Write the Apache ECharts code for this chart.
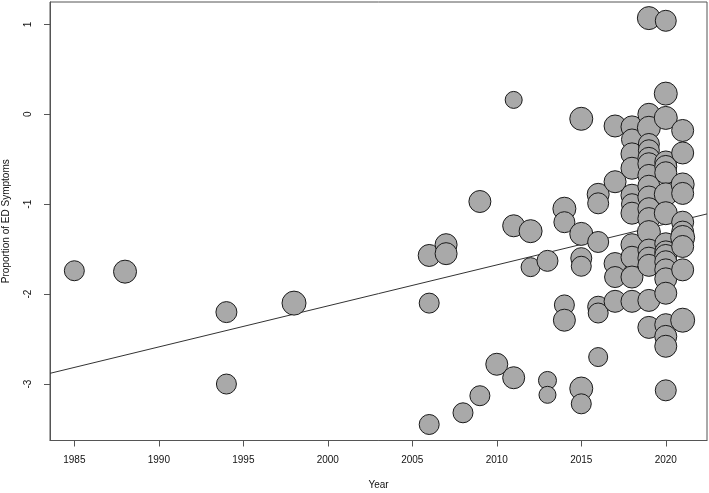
<!DOCTYPE html>
<html>
<head>
<meta charset="utf-8">
<script src="https://cdn.jsdelivr.net/npm/echarts@6/dist/echarts.min.js"></script>
<style>
html,body{margin:0;padding:0;background:#fff;}
#chart{width:709px;height:493px;}
</style>
</head>
<body>
<div id="chart"></div>
<script>
// Study year, effect value, and relative weight (bubble size, 1..8)
var years = [1985,1988,1994,1994,1998,2006,2006,2006,2007,2007,2008,2009,2009,2010,2011,2011,2011,2012,2012,2013,2013,2013,2014,2014,2014,2014,2015,2015,2015,2015,2015,2015,2016,2016,2016,2016,2016,2016,
  2017,2017,2017,2017,2017,
  2018,2018,2018,2018,2018,2018,2018,2018,2018,2018,2018,
  2019,2019,2019,2019,2019,2019,2019,2019,2019,2019,2019,2019,2019,2019,2019,2019,2019,2019,
  2020,2020,2020,2020,2020,2020,2020,2020,2020,2020,2020,2020,2020,2020,2020,2020,2020,2020,2020,
  2021,2021,2021,2021,2021,2021,2021,2021,2021,2021];
var values = [-1.74,-1.75,-2.20,-3.00,-2.10,-1.57,-2.10,-3.45,-1.45,-1.55,-3.32,-0.97,-3.13,-2.78,0.16,-1.24,-2.93,-1.30,-1.70,-1.63,-2.96,-3.12,-1.05,-1.20,-2.12,-2.29,-0.05,-1.33,-1.60,-1.69,-3.05,-3.22,-0.89,-0.99,-1.42,-2.14,-2.21,-2.70,
  -0.13,-0.75,-1.66,-1.81,-2.08,
  -0.14,-0.28,-0.44,-0.60,-0.90,-1.00,-1.10,-1.45,-1.59,-1.81,-2.08,
  1.07,0.00,-0.15,-0.33,-0.40,-0.49,-0.55,-0.68,-0.80,-0.92,-1.05,-1.16,-1.31,-1.51,-1.60,-1.68,-2.07,-2.37,
  1.04,0.23,-0.04,-0.53,-0.58,-0.65,-0.89,-1.10,-1.44,-1.53,-1.57,-1.64,-1.73,-1.83,-1.99,-2.34,-2.47,-2.58,-3.07,
  -0.18,-0.43,-0.78,-0.88,-1.20,-1.31,-1.37,-1.47,-1.73,-2.29];
var weights = [4,7,5,4,8,6,4,4,6,6,4,6,4,6,1,6,6,7,3,5,2,1,7,5,4,6,7,7,5,4,7,4,6,5,5,5,4,3,
  6,6,6,5,6,
  6,5,6,6,6,5,6,6,6,6,6,
  7,6,7,5,5,6,6,6,6,6,6,6,7,6,6,6,6,6,
  5,7,7,6,6,6,7,7,6,6,6,6,6,6,6,6,6,6,5,
  6,6,7,6,6,6,8,6,6,8];
var xTicks = [1985,1990,1995,2000,2005,2010,2015,2020];
var yTicks = [-3,-2,-1,0,1];
var fitIntercept = -2.881; // value at x = 1983.56
var fitSlope = 0.0456;

var xMin = 1983.56, xMax = 2022.44;
var yMin = -3.628, yMax = 1.249;

var pts = years.map(function(y,i){ return [y, values[i], weights[i]]; });
var fitLine = [xMin, xMax].map(function(x){ return [x, fitIntercept + fitSlope*(x - xMin)]; });

var chart = echarts.init(document.getElementById('chart'), null, {renderer:'canvas'});
var font = '"Liberation Sans", Arial, sans-serif';
chart.setOption({
  animation:false,
  backgroundColor:'#fff',
  grid:{left:50, right:2, top:2, bottom:52.5, containLabel:false, outerBoundsMode:'none',
        show:true, borderColor:'#555', borderWidth:1, backgroundColor:'transparent'},
  xAxis:{
    type:'value', min:xMin, max:xMax,
    name:'Year', nameLocation:'middle', nameGap:40,
    nameTextStyle:{fontFamily:font, fontSize:10, color:'#111'},
    axisLine:{show:true, onZero:false, lineStyle:{color:'#555'}},
    axisTick:{show:true, length:6, customValues:xTicks, lineStyle:{color:'#555'}},
    axisLabel:{customValues:xTicks, margin:15, fontFamily:font, fontSize:10, color:'#111',
               formatter:function(v){ return String(v); }},
    splitLine:{show:false}
  },
  yAxis:{
    type:'value', min:yMin, max:yMax,
    name:'Proportion of ED Symptoms', nameLocation:'middle', nameGap:39, nameRotate:90,
    nameTextStyle:{fontFamily:font, fontSize:10, color:'#111'},
    axisLine:{show:true, onZero:false, lineStyle:{color:'#555'}},
    axisTick:{show:true, length:6, customValues:yTicks, lineStyle:{color:'#555'}},
    axisLabel:{customValues:yTicks, rotate:90, margin:17, fontFamily:font, fontSize:10, color:'#111',
               formatter:function(v){ return String(v); }},
    splitLine:{show:false}
  },
  series:[
    {
      type:'line', data:fitLine, symbol:'none', silent:true, z:1,
      lineStyle:{color:'#333', width:1}
    },
    {
      type:'scatter', data:pts, z:2,
      symbolSize:function(d){ return 2*(8 + d[2]/2); },
      itemStyle:{color:'#a9a9a9', borderColor:'#1a1a1a', borderWidth:1, opacity:1}
    }
  ]
});
</script>
</body>
</html>
